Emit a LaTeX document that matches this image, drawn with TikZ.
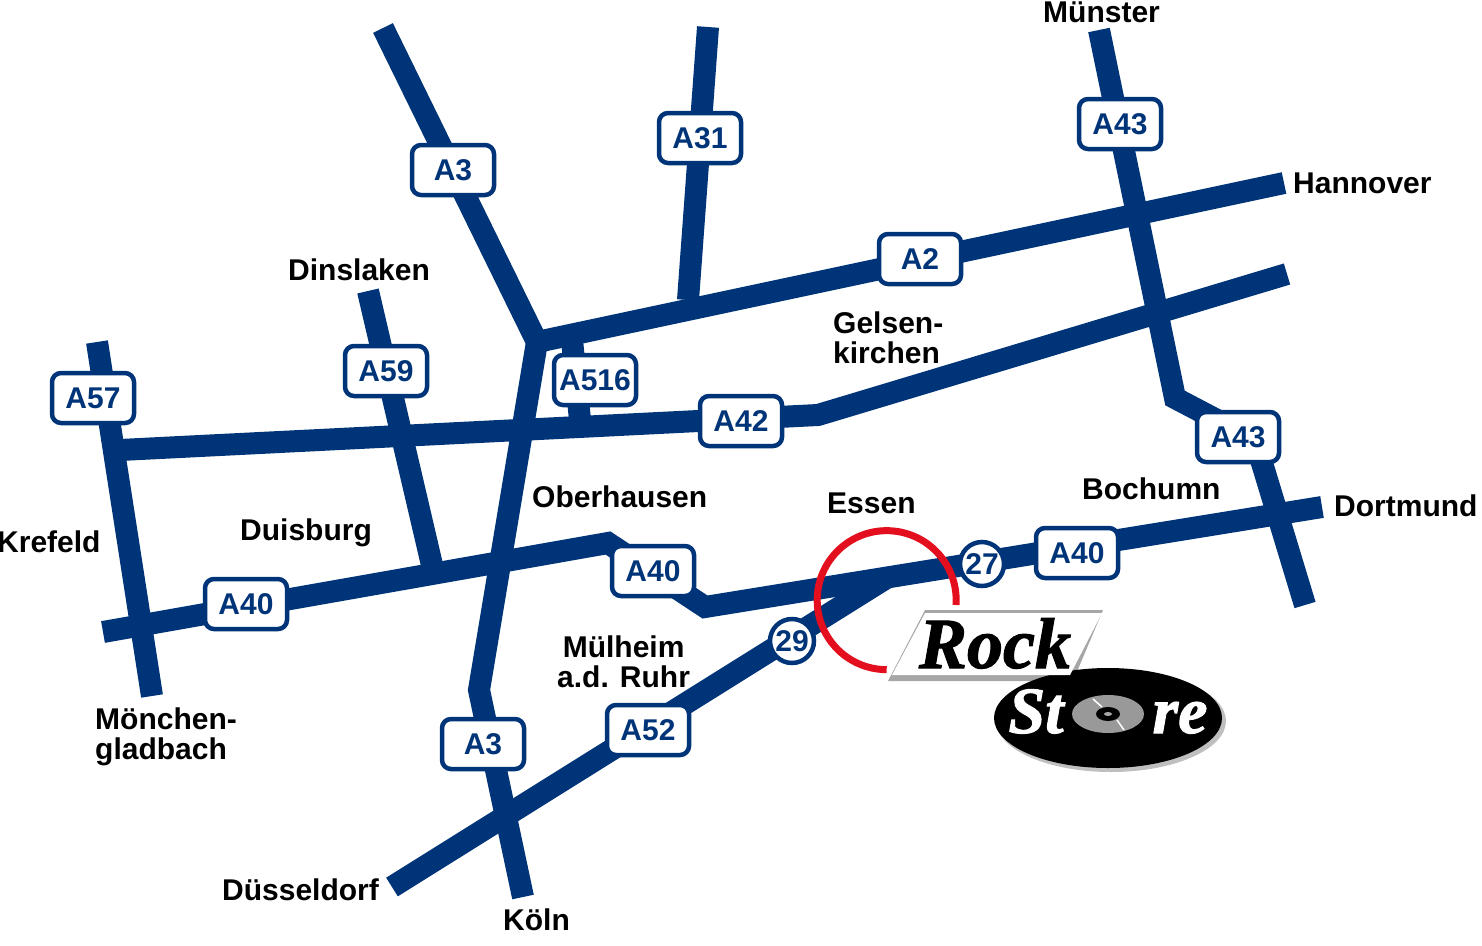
\documentclass[tikz,border=0pt]{standalone}
\usepackage{fontspec, tkz-euclide}
\setmainfont{Liberation Sans}
\newfontface\logofont{Liberation Serif Bold Italic}[FakeBold=1.5]
\definecolor{roadblue}{HTML}{003478}
\definecolor{ringred}{HTML}{E30E1E}
\tikzset{
    road/.style = {draw = roadblue, line width = 22pt, line join = miter},
    shield/.style = {draw = roadblue, fill = white, line width = 4.5pt, rounded corners = 9pt, minimum width = 82pt, minimum height = 50pt, inner sep = 0pt, text = roadblue, font = \fontsize{30}{30}\selectfont\bfseries},
    exit/.style = {shield, circle, minimum width = 44pt, minimum height = 44pt},
    place/.style = {anchor = base west, inner sep = 0pt, align = left, font = \fontsize{30}{30}\selectfont\bfseries}
}

\begin{document}
\begin{tikzpicture}[x = 1pt, y = -1pt]
    \useasboundingbox (0,0) rectangle (1482,945);
    \tkzDefPoints{383/28/AN, 537/342/J, 479/690/AB, 523/897/AS}
    \tkzDefPoints{708/27/BN, 688/300/BS, 1284/183/CE}
    \tkzDefPoints{1099/30/DN, 1175/398/DB, 1255/440/DC, 1305/605/DS}
    \tkzDefPoints{120/450/EW, 818/415/EB, 1287/274/EE}
    \tkzDefPoints{368/291/FN, 432/565/FS, 97/342/GN, 152/696/GS, 572/340/HN, 580/420/HS}
    \tkzDefPoints{103/632/KW, 608/543/KB, 705/607/KC, 1322/507/KE, 392/887/LW, 888/577/LE}

    \draw[road] (AN) -- (J) -- (AB) -- (AS);
    \draw[road] (BN) -- (BS);
    \draw[road] (J) -- (CE);
    \draw[road] (DN) -- (DB) -- (DC) -- (DS);
    \draw[road] (EW) -- (EB) -- (EE);
    \draw[road] (FN) -- (FS);
    \draw[road] (GN) -- (GS);
    \draw[road] (HN) -- (HS);
    \draw[road] (KW) -- (KB) -- (KC) -- (KE);
    \draw[road] (LW) -- (LE);

    \node[shield] (a3n) at (453,170) {A3};
    \node[shield] (a31) at (700,138) {A31};
    \node[shield] (a43n) at (1120,124) {A43};
    \node[shield] (a2) at (920,259) {A2};
    \node[shield] (a59) at (386,371) {A59};
    \node[shield] (a57) at (93,398) {A57};
    \node[shield] (a516) at (595,380) {A516};
    \node[shield] (a42) at (741,421) {A42};
    \node[shield] (a43s) at (1238,437) {A43};
    \node[shield] (a40m) at (653,571) {A40};
    \node[shield] (a40w) at (246,604) {A40};
    \node[shield] (a40e) at (1077,553) {A40};
    \node[shield] (a3s) at (483,744) {A3};
    \node[shield] (a52) at (648,730) {A52};
    \node[exit] (x27) at (982,564) {27};
    \node[exit] (x29) at (792,641) {29};

    \node[place] (muenster) at (1043,22) {Münster};
    \node[place] (hannover) at (1293,193) {Hannover};
    \node[place] (dinslaken) at (288,280) {Dinslaken};
    \node[place] (gelsen) at (833,363) {Gelsen-\\kirchen};
    \node[place] (oberhausen) at (532,507) {Oberhausen};
    \node[place] (essen) at (827,513) {Essen};
    \node[place] (bochum) at (1082,499) {Bochumn};
    \node[place] (dortmund) at (1334,516) {Dortmund};
    \node[place] (krefeld) at (-3,552) {Krefeld};
    \node[place] (duisburg) at (240,540) {Duisburg};
    \node[place, align = center] (muelheim) at (557,687) {Mülheim\\a.d. Ruhr};
    \node[place] (moenchen) at (95,759) {Mönchen-\\gladbach};
    \node[place] (duesseldorf) at (222,900) {Düsseldorf};
    \node[place] (koeln) at (503,930) {Köln};

    \draw[ringred, line width = 7pt] (956,605) arc[start angle = 4, end angle = -270, radius = 69.5];

    % logo
    \fill[black!35] (925,610) -- (1103,610) -- (1073,681) -- (888,681) -- cycle;
    \fill[black!25] (1111,721) ellipse[x radius = 115, y radius = 51];
    \fill[black] (1108,718) ellipse[x radius = 114, y radius = 50];
    \fill[white] (925,613) -- (1102,613) -- (1070,675) -- (892,675) -- cycle;
    \node[anchor = base, inner sep = 0pt, font = \fontsize{72}{72}\logofont] (rock) at (995,668) {Rock};
    \node[anchor = base, inner sep = 0pt, text = white, font = \fontsize{66}{66}\logofont] (store) at (1108,733) {St\kern 28pt\raisebox{4pt}{o}\kern 28pt re};
    \fill[black!40] (1108,714) ellipse[x radius = 36, y radius = 19];
    \draw[white, line width = 1.5pt] (1093,699) -- (1102,707);
    \draw[white, line width = 1.5pt] (1117,720) -- (1124,730);
    \fill[black] (1108,714) ellipse[x radius = 12, y radius = 7];
    \fill[black!35] (1108,714) ellipse[x radius = 4, y radius = 2];
\end{tikzpicture}
\end{document}
